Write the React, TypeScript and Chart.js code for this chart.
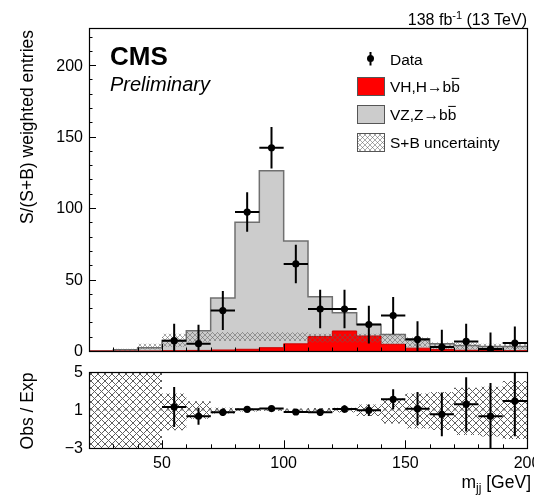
import React, { useEffect, useRef } from "react";
import { Chart, registerables } from "chart.js";

Chart.register(...registerables);

const FONT = "'Liberation Sans', Arial, Helvetica, sans-serif";

// ---------- data ----------
const binEdges = [20, 30, 40, 50, 60, 70, 80, 90, 100, 110, 120, 130, 140, 150, 160, 170, 180, 190, 200];
const vhSignal = [0, 0, 0, 0.2, 0.4, 0.7, 1.2, 2.3, 5.0, 10.2, 14.0, 10.5, 4.7, 2.0, 1.1, 0.5, 0.3, 0.2];
const vzBackground = [0, 0.8, 2.3, 7.2, 13.7, 36.3, 88.8, 123.8, 72.0, 27.8, 12.8, 8.0, 6.8, 6.5, 4.0, 3.4, 2.9, 3.0];
const uncLow = [0, 0, 1, 3, 6.5, 7, 7, 7, 7, 6, 6, 6, 5, 3, 1.5, 1, 0.5, 1];
const uncHigh = [0, 1.5, 5, 12, 13.3, 13.2, 13.2, 13.2, 13, 12, 12, 12, 12, 9.5, 6, 6, 5, 6];

const dataMass = [55, 65, 75, 85, 95, 105, 115, 125, 135, 145, 155, 165, 175, 185, 195];
const dataValues = [7.2, 5.1, 28.3, 97.2, 142.2, 60.9, 29.4, 29.4, 18.5, 24.8, 8.1, 2.8, 6.7, 1.4, 5.6];
const dataErrors = [11.8, 13.2, 13.6, 13.8, 14.5, 13.5, 13.5, 13.5, 13.2, 13.0, 12.7, 12.0, 12.3, 11.6, 11.5];

const ratioValues = [1.32, 0.34, 0.76, 1.07, 1.15, 0.79, 0.76, 1.1, 0.97, 2.13, 1.14, 0.55, 1.6, 0.34, 1.95];
const ratioErrors = [2.1, 0.9, 0.4, 0.15, 0.1, 0.2, 0.4, 0.4, 0.6, 1.05, 1.75, 2.3, 2.85, 3.5, 3.7];
const ratioUncLow = [-3, -3, -3, -1.14, 0.09, 0.62, 0.85, 0.9, 0.85, 0.8, 0.75, 0.37, -0.43, -0.94, -1.1, -1.63, -1.8, -2.05];
const ratioUncHigh = [5, 5, 5, 2.73, 1.92, 1.25, 1.15, 1.1, 1.15, 1.2, 1.25, 1.57, 2.2, 2.73, 2.9, 3.35, 3.45, 4.05];
const ratioReference = 1;

const mainYTicks = [0, 50, 100, 150, 200];
const xTickLabels = [50, 100, 150, 200];
const ratioYTicks = [5, 1, -3];
const ratioYLabels = ["5", "1", "\u22123"];

// ---------- helpers ----------
function stepPoints(values: number[]) {
  const pts = values.map((v, i) => ({ x: binEdges[i], y: v }));
  pts.push({ x: binEdges[binEdges.length - 1], y: values[values.length - 1] });
  return pts;
}

function makeHatch(size: number, color: string, lw: number) {
  const c = document.createElement("canvas");
  c.width = size;
  c.height = size;
  const g = c.getContext("2d")!;
  g.strokeStyle = color;
  g.lineWidth = lw;
  g.beginPath();
  g.moveTo(0, 0);
  g.lineTo(size, size);
  g.moveTo(size, 0);
  g.lineTo(0, size);
  g.stroke();
  return g.createPattern(c, "repeat")!;
}

function errorBarPlugin(xs: number[], ys: number[], errs: number[], halfWidth: number) {
  return {
    id: "errbars",
    afterDatasetsDraw(chart: any) {
      const { ctx, chartArea: a, scales } = chart;
      const x = scales.x;
      const y = scales.y;
      ctx.save();
      ctx.beginPath();
      ctx.rect(a.left, a.top, a.right - a.left, a.bottom - a.top);
      ctx.clip();
      ctx.strokeStyle = "#000";
      ctx.lineWidth = 2;
      ctx.beginPath();
      xs.forEach((xv, i) => {
        const px = x.getPixelForValue(xv);
        const py = y.getPixelForValue(ys[i]);
        ctx.moveTo(px, y.getPixelForValue(ys[i] - errs[i]));
        ctx.lineTo(px, y.getPixelForValue(ys[i] + errs[i]));
        ctx.moveTo(x.getPixelForValue(xv - halfWidth), py);
        ctx.lineTo(x.getPixelForValue(xv + halfWidth), py);
      });
      ctx.stroke();
      ctx.restore();
    },
  };
}

function drawFrameAndXTicks(ctx: any, chart: any, minorLen: number, majorLen: number) {
  const a = chart.chartArea;
  const x = chart.scales.x;
  ctx.save();
  ctx.strokeStyle = "#000";
  ctx.lineWidth = 1;
  ctx.beginPath();
  for (let v = binEdges[0]; v <= binEdges[binEdges.length - 1]; v += 10) {
    const px = Math.round(x.getPixelForValue(v)) + 0.5;
    const len = v % 50 === 0 ? majorLen : minorLen;
    ctx.moveTo(px, a.bottom);
    ctx.lineTo(px, a.bottom - len);
  }
  ctx.stroke();
  ctx.lineWidth = 1.2;
  ctx.strokeRect(Math.round(a.left) + 0.5, Math.round(a.top) + 0.5, Math.round(a.right - a.left), Math.round(a.bottom - a.top));
  ctx.restore();
}

function drawText(ctx: any, parts: { t: string; size: number; dy: number; style?: string }[], xRight: number, baseline: number) {
  let total = 0;
  const widths = parts.map((p) => {
    ctx.font = `${p.style || ""} ${p.size}px ${FONT}`;
    const w = ctx.measureText(p.t).width;
    total += w;
    return w;
  });
  let x = xRight - total;
  ctx.textAlign = "left";
  ctx.textBaseline = "alphabetic";
  parts.forEach((p, i) => {
    ctx.font = `${p.style || ""} ${p.size}px ${FONT}`;
    ctx.fillText(p.t, x, baseline + p.dy);
    x += widths[i];
  });
}

function drawBbText(ctx: any, text: string, x: number, baseline: number, size: number) {
  ctx.font = `${size}px ${FONT}`;
  ctx.textAlign = "left";
  ctx.textBaseline = "alphabetic";
  ctx.fillText(text, x, baseline);
  const w = ctx.measureText(text).width;
  const wb = ctx.measureText("b").width;
  ctx.save();
  ctx.strokeStyle = "#000";
  ctx.lineWidth = 1;
  ctx.beginPath();
  const yy = baseline - size * 0.716 - 3 + 0.5;
  ctx.moveTo(x + w - wb + 0.5, yy);
  ctx.lineTo(x + w - 0.5, yy);
  ctx.stroke();
  ctx.restore();
}

export default function App() {
  const mainRef = useRef<HTMLCanvasElement>(null);
  const ratioRef = useRef<HTMLCanvasElement>(null);

  useEffect(() => {
    const mainHatch = makeHatch(5, "rgba(95,95,95,0.6)", 0.9);
    const ratioHatch = makeHatch(7, "rgba(95,95,95,1)", 1);

    const total = vhSignal.map((v, i) => v + vzBackground[i]);

    const mainDecor = {
      id: "mainDecor",
      afterDraw(chart: any) {
        const { ctx, chartArea: a, scales } = chart;
        const y = scales.y;
        drawFrameAndXTicks(ctx, chart, 3.5, 7);
        // y ticks
        ctx.save();
        ctx.strokeStyle = "#000";
        ctx.lineWidth = 1;
        ctx.beginPath();
        for (let v = 0; v <= 220; v += 10) {
          const py = Math.round(y.getPixelForValue(v)) + 0.5;
          const len = v % 50 === 0 ? 7 : 3.5;
          ctx.moveTo(a.left, py);
          ctx.lineTo(a.left + len, py);
        }
        ctx.stroke();
        ctx.fillStyle = "#000";
        ctx.font = `16px ${FONT}`;
        ctx.textAlign = "right";
        ctx.textBaseline = "middle";
        mainYTicks.forEach((v) => ctx.fillText(String(v), 83, y.getPixelForValue(v) + 1));
        // y title
        ctx.save();
        ctx.translate(28, 30);
        ctx.rotate(-Math.PI / 2);
        ctx.font = `17.5px ${FONT}`;
        ctx.textAlign = "right";
        ctx.textBaseline = "middle";
        ctx.fillText("S/(S+B) weighted entries", 0, 0);
        ctx.restore();
        // lumi text
        ctx.fillStyle = "#000";
        drawText(
          ctx,
          [
            { t: "138 fb", size: 16, dy: 0 },
            { t: "-1", size: 11, dy: -6 },
            { t: " (13 TeV)", size: 16, dy: 0 },
          ],
          527,
          25
        );
        // CMS
        ctx.textAlign = "left";
        ctx.textBaseline = "alphabetic";
        ctx.font = `bold 26px ${FONT}`;
        ctx.fillText("CMS", 110, 65);
        ctx.font = `italic 20px ${FONT}`;
        ctx.fillText("Preliminary", 110, 90.5);
        // legend
        const bx = 357, bw = 27, bh = 18, tx = 390;
        ctx.strokeStyle = "#000";
        ctx.lineWidth = 2;
        ctx.beginPath();
        ctx.moveTo(370.5, 52);
        ctx.lineTo(370.5, 65.5);
        ctx.stroke();
        ctx.beginPath();
        ctx.arc(370.5, 58.5, 3.5, 0, Math.PI * 2);
        ctx.fill();
        ctx.font = `15.5px ${FONT}`;
        ctx.fillText("Data", tx, 64.5);
        const boxes = [
          { y: 77, fill: "#ff0000" as any, label: "VH,H\u2192bb" },
          { y: 105, fill: "#cccccc" as any, label: "VZ,Z\u2192bb" },
          { y: 133, fill: null as any, label: "S+B uncertainty" },
        ];
        boxes.forEach((b) => {
          ctx.fillStyle = "#fff";
          ctx.fillRect(bx, b.y, bw, bh);
          ctx.fillStyle = b.fill ? b.fill : mainHatch;
          ctx.fillRect(bx, b.y, bw, bh);
          ctx.strokeStyle = "#555";
          ctx.lineWidth = 1;
          ctx.strokeRect(bx + 0.5, b.y + 0.5, bw, bh);
          ctx.fillStyle = "#000";
          if (b.label.endsWith("bb")) drawBbText(ctx, b.label, tx, b.y + 15, 15.5);
          else {
            ctx.font = `15.5px ${FONT}`;
            ctx.fillText(b.label, tx, b.y + 14.5);
          }
        });
        ctx.restore();
      },
    };

    const mainChart = new Chart(mainRef.current!, {
      type: "line",
      data: {
        datasets: [
          {
            label: "VZ,Z\u2192bb",
            data: stepPoints(total),
            stepped: true,
            fill: "origin",
            backgroundColor: "#cccccc",
            borderColor: "#707070",
            borderWidth: 1.5,
            pointRadius: 0,
            order: 5,
          },
          {
            label: "VH,H\u2192bb",
            data: stepPoints(vhSignal),
            stepped: true,
            fill: "origin",
            backgroundColor: "#ff0000",
            borderColor: "#cc0000",
            borderWidth: 1,
            pointRadius: 0,
            order: 4,
          },
          {
            label: "unc low",
            data: stepPoints(uncLow),
            stepped: true,
            fill: false,
            borderWidth: 0,
            borderColor: "rgba(0,0,0,0)",
            pointRadius: 0,
            order: 3,
          },
          {
            label: "S+B uncertainty",
            data: stepPoints(uncHigh),
            stepped: true,
            fill: "-1",
            backgroundColor: mainHatch as any,
            borderWidth: 0,
            borderColor: "rgba(0,0,0,0)",
            pointRadius: 0,
            order: 2,
          },
          {
            label: "Data",
            data: dataMass.map((m, i) => ({ x: m, y: dataValues[i] })),
            showLine: false,
            pointRadius: 3.6,
            pointBackgroundColor: "#000",
            pointBorderWidth: 0,
            order: 1,
          },
        ] as any,
      },
      options: {
        animation: false,
        responsive: false,
        events: [],
        layout: { padding: { left: 89, right: 7, top: 28, bottom: 9 } },
        scales: {
          x: { type: "linear", min: 20, max: 200, display: false },
          y: { type: "linear", min: 0, max: 226, display: false },
        },
        plugins: { legend: { display: false }, tooltip: { enabled: false } },
      } as any,
      plugins: [errorBarPlugin(dataMass, dataValues, dataErrors, 5), mainDecor],
    });

    const ratioDecor = {
      id: "ratioDecor",
      afterDraw(chart: any) {
        const { ctx, chartArea: a, scales } = chart;
        const x = scales.x;
        const y = scales.y;
        drawFrameAndXTicks(ctx, chart, 3.7, 7.7);
        ctx.save();
        ctx.fillStyle = "#000";
        ctx.font = `16px ${FONT}`;
        ctx.textAlign = "right";
        ctx.textBaseline = "middle";
        ratioYTicks.forEach((v, i) => ctx.fillText(ratioYLabels[i], 83, y.getPixelForValue(v) + 1));
        ctx.textAlign = "center";
        ctx.textBaseline = "middle";
        xTickLabels.forEach((v) => ctx.fillText(String(v), x.getPixelForValue(v), 104));
        // y title
        ctx.save();
        ctx.translate(28, (a.top + a.bottom) / 2 + 1);
        ctx.rotate(-Math.PI / 2);
        ctx.font = `17.5px ${FONT}`;
        ctx.textAlign = "center";
        ctx.textBaseline = "middle";
        ctx.fillText("Obs / Exp", 0, 0);
        ctx.restore();
        // x title
        drawText(
          ctx,
          [
            { t: "m", size: 17.5, dy: 0 },
            { t: "jj", size: 12, dy: 4 },
            { t: " [GeV]", size: 17.5, dy: 0 },
          ],
          531,
          128
        );
        ctx.restore();
      },
    };

    const ratioChart = new Chart(ratioRef.current!, {
      type: "line",
      data: {
        datasets: [
          {
            label: "ratio unc low",
            data: stepPoints(ratioUncLow),
            stepped: true,
            fill: false,
            borderWidth: 0,
            borderColor: "rgba(0,0,0,0)",
            pointRadius: 0,
            order: 4,
          },
          {
            label: "ratio unc",
            data: stepPoints(ratioUncHigh),
            stepped: true,
            fill: "-1",
            backgroundColor: ratioHatch as any,
            borderWidth: 0,
            borderColor: "rgba(0,0,0,0)",
            pointRadius: 0,
            order: 3,
          },
          {
            label: "reference",
            data: [
              { x: binEdges[0], y: ratioReference },
              { x: binEdges[binEdges.length - 1], y: ratioReference },
            ],
            borderColor: "#8a8a8a",
            borderWidth: 1,
            borderDash: [4, 3],
            pointRadius: 0,
            fill: false,
            order: 2,
          },
          {
            label: "Obs/Exp",
            data: dataMass.map((m, i) => ({ x: m, y: ratioValues[i] })),
            showLine: false,
            pointRadius: 3.6,
            pointBackgroundColor: "#000",
            pointBorderWidth: 0,
            order: 1,
          },
        ] as any,
      },
      options: {
        animation: false,
        responsive: false,
        events: [],
        layout: { padding: { left: 89, right: 7, top: 12, bottom: 48 } },
        scales: {
          x: { type: "linear", min: 20, max: 200, display: false },
          y: { type: "linear", min: -3, max: 5, display: false },
        },
        plugins: { legend: { display: false }, tooltip: { enabled: false } },
      } as any,
      plugins: [errorBarPlugin(dataMass, ratioValues, ratioErrors, 5), ratioDecor],
    });

    return () => {
      mainChart.destroy();
      ratioChart.destroy();
    };
  }, []);

  return (
    <div style={{ position: "absolute", left: 0, top: 0, width: 534, height: 496, background: "#fff" }}>
      <canvas ref={mainRef} width={534} height={360} style={{ position: "absolute", left: 0, top: 0 }} />
      <canvas ref={ratioRef} width={534} height={136} style={{ position: "absolute", left: 0, top: 360 }} />
    </div>
  );
}
